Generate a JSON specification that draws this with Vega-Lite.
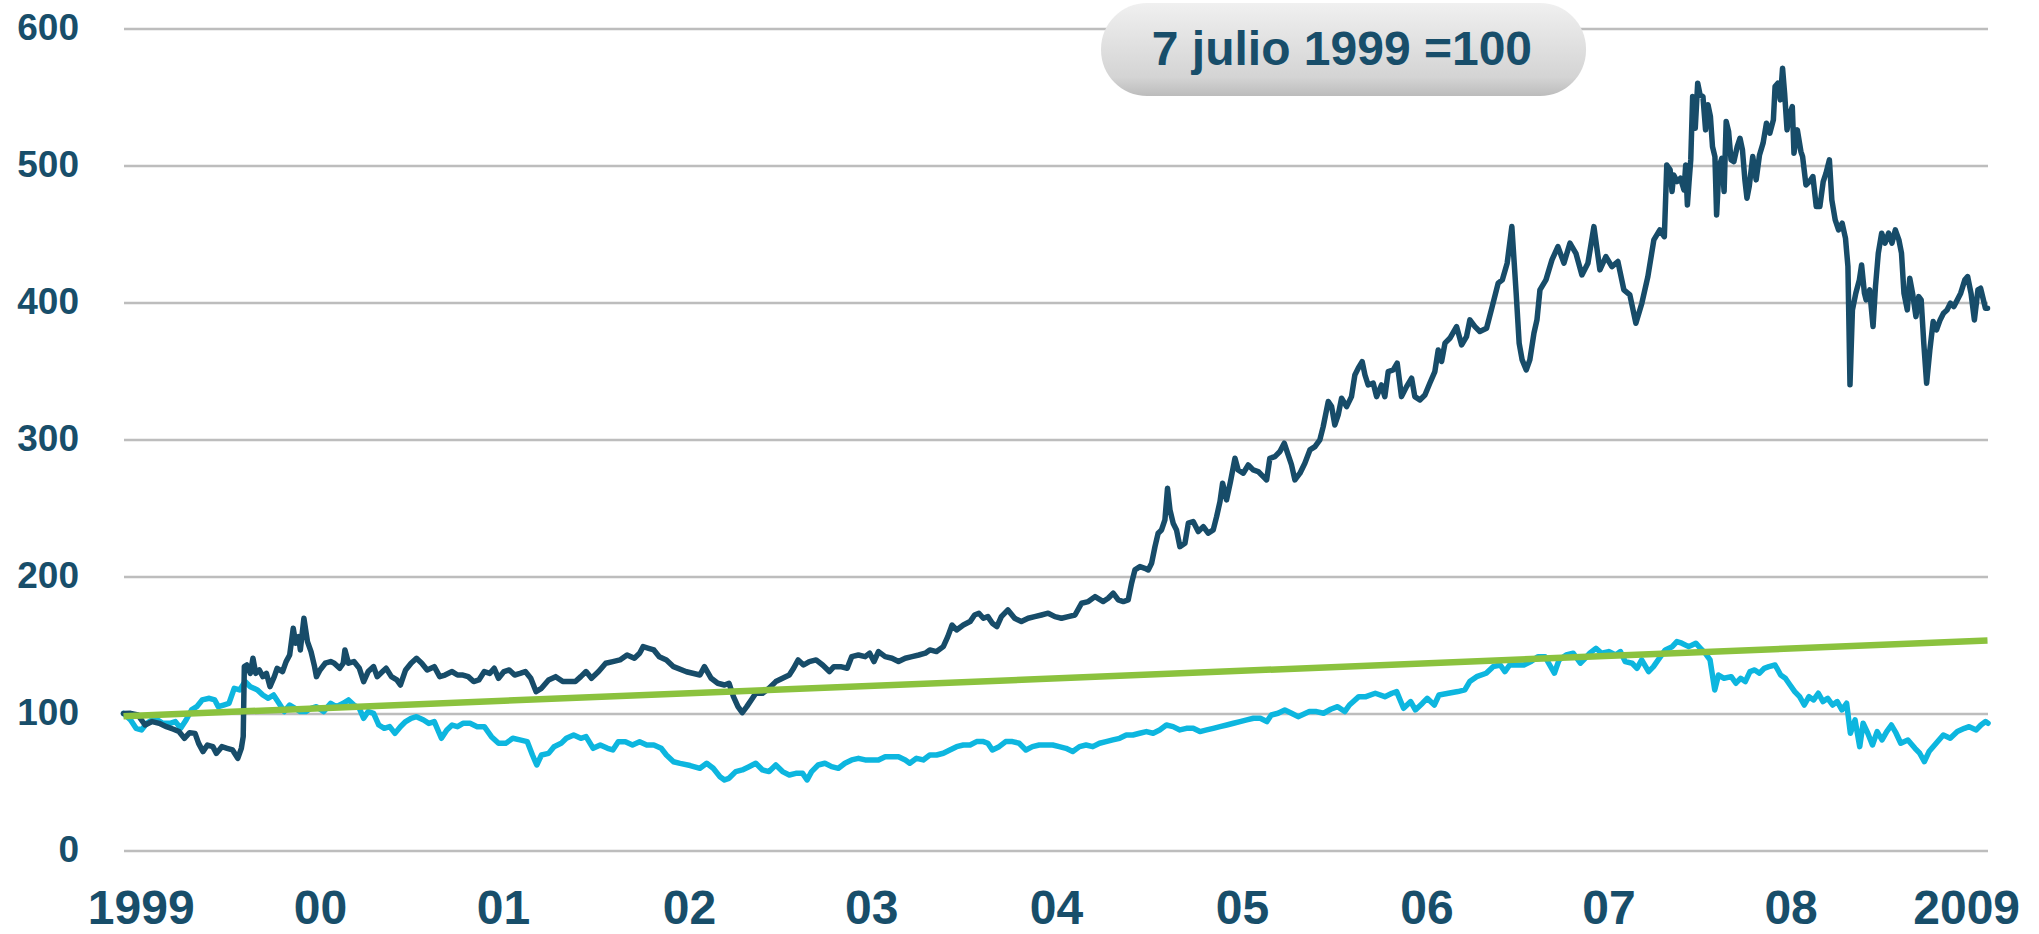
{
"$schema": "https://vega.github.io/schema/vega-lite/v6.json",
"width": 1864,
"height": 822,
"autosize": {"type": "none"},
"padding": {"left": 123.5, "top": 28.5, "right": 51.5, "bottom": 83.5},
"background": "white",
"config": {"view": {"stroke": null}},
"datasets": {
"rotulo": [{"texto": "7 julio 1999 =100"}],
"verde": [{"fecha": 1999.515, "valor": 98}, {"fecha": 2009.465, "valor": 153.3}],
"oscuro": [
{"fecha":1999.515,"valor":100},{"fecha":1999.553,"valor":100.1},{"fecha":1999.592,"valor":98.9},{"fecha":1999.630,"valor":91.6},{"fecha":1999.668,"valor":94.1},{"fecha":1999.706,"valor":92.8},{"fecha":1999.744,"valor":90.4},{"fecha":1999.782,"valor":88.5},{"fecha":1999.811,"valor":86.8},{"fecha":1999.840,"valor":81.9},{"fecha":1999.868,"valor":86.0},{"fecha":1999.897,"valor":85.5},{"fecha":1999.916,"valor":78.2},{"fecha":1999.939,"valor":72.2},{"fecha":1999.963,"valor":77.0},{"fecha":1999.992,"valor":75.8},{"fecha":2000.011,"valor":70.9},{"fecha":2000.040,"valor":75.8},{"fecha":2000.068,"valor":74.6},{"fecha":2000.097,"valor":73.4},{"fecha":2000.125,"valor":67.3},{"fecha":2000.144,"valor":74.6},{"fecha":2000.154,"valor":83.1},{"fecha":2000.160,"valor":134.2},{"fecha":2000.173,"valor":135.4},{"fecha":2000.192,"valor":129.3},{"fecha":2000.206,"valor":140.3},{"fecha":2000.221,"valor":129.3},{"fecha":2000.240,"valor":131.8},{"fecha":2000.259,"valor":126.9},{"fecha":2000.278,"valor":129.3},{"fecha":2000.297,"valor":119.6},{"fecha":2000.320,"valor":126.9},{"fecha":2000.335,"valor":133.0},{"fecha":2000.364,"valor":130.6},{"fecha":2000.383,"valor":137.9},{"fecha":2000.402,"valor":142.7},{"fecha":2000.421,"valor":162.2},{"fecha":2000.434,"valor":151.3},{"fecha":2000.450,"valor":156.1},{"fecha":2000.459,"valor":146.4},{"fecha":2000.478,"valor":169.5},{"fecha":2000.497,"valor":152.5},{"fecha":2000.516,"valor":145.2},{"fecha":2000.535,"valor":134.2},{"fecha":2000.545,"valor":126.9},{"fecha":2000.564,"valor":131.8},{"fecha":2000.592,"valor":136.7},{"fecha":2000.621,"valor":137.9},{"fecha":2000.640,"valor":136.7},{"fecha":2000.669,"valor":133.0},{"fecha":2000.688,"valor":136.7},{"fecha":2000.697,"valor":146.4},{"fecha":2000.716,"valor":136.7},{"fecha":2000.745,"valor":137.9},{"fecha":2000.774,"valor":133.0},{"fecha":2000.797,"valor":123.3},{"fecha":2000.821,"valor":130.6},{"fecha":2000.850,"valor":134.2},{"fecha":2000.869,"valor":126.9},{"fecha":2000.898,"valor":130.6},{"fecha":2000.917,"valor":133.0},{"fecha":2000.945,"valor":126.9},{"fecha":2000.974,"valor":124.5},{"fecha":2000.993,"valor":120.8},{"fecha":2001.021,"valor":131.8},{"fecha":2001.050,"valor":136.7},{"fecha":2001.079,"valor":140.3},{"fecha":2001.107,"valor":136.7},{"fecha":2001.136,"valor":131.8},{"fecha":2001.174,"valor":134.2},{"fecha":2001.203,"valor":126.9},{"fecha":2001.231,"valor":128.1},{"fecha":2001.269,"valor":130.6},{"fecha":2001.298,"valor":128.1},{"fecha":2001.327,"valor":128.1},{"fecha":2001.355,"valor":126.9},{"fecha":2001.384,"valor":123.3},{"fecha":2001.412,"valor":124.5},{"fecha":2001.441,"valor":130.6},{"fecha":2001.470,"valor":129.3},{"fecha":2001.494,"valor":133.0},{"fecha":2001.517,"valor":125.7},{"fecha":2001.546,"valor":130.6},{"fecha":2001.574,"valor":131.8},{"fecha":2001.603,"valor":128.1},{"fecha":2001.632,"valor":129.3},{"fecha":2001.660,"valor":130.6},{"fecha":2001.689,"valor":125.7},{"fecha":2001.717,"valor":116.0},{"fecha":2001.746,"valor":118.4},{"fecha":2001.784,"valor":124.5},{"fecha":2001.822,"valor":126.9},{"fecha":2001.860,"valor":123.3},{"fecha":2001.898,"valor":123.3},{"fecha":2001.927,"valor":123.3},{"fecha":2001.956,"valor":126.9},{"fecha":2001.984,"valor":130.6},{"fecha":2002.013,"valor":125.7},{"fecha":2002.051,"valor":130.6},{"fecha":2002.089,"valor":136.7},{"fecha":2002.127,"valor":137.9},{"fecha":2002.165,"valor":139.1},{"fecha":2002.203,"valor":142.7},{"fecha":2002.242,"valor":140.3},{"fecha":2002.270,"valor":144.0},{"fecha":2002.289,"valor":148.8},{"fecha":2002.318,"valor":147.6},{"fecha":2002.346,"valor":146.4},{"fecha":2002.375,"valor":141.5},{"fecha":2002.413,"valor":139.1},{"fecha":2002.451,"valor":134.2},{"fecha":2002.520,"valor":130.5},{"fecha":2002.592,"valor":128.1},{"fecha":2002.616,"valor":134.2},{"fecha":2002.652,"valor":125.7},{"fecha":2002.687,"valor":122.1},{"fecha":2002.723,"valor":120.8},{"fecha":2002.747,"valor":122.1},{"fecha":2002.771,"valor":112.3},{"fecha":2002.795,"valor":105.0},{"fecha":2002.818,"valor":100.6},{"fecha":2002.842,"valor":105.0},{"fecha":2002.866,"valor":109.9},{"fecha":2002.890,"valor":114.8},{"fecha":2002.926,"valor":114.8},{"fecha":2002.961,"valor":118.4},{"fecha":2002.997,"valor":123.3},{"fecha":2003.033,"valor":125.7},{"fecha":2003.069,"valor":128.1},{"fecha":2003.092,"valor":133.0},{"fecha":2003.116,"valor":139.1},{"fecha":2003.145,"valor":135.4},{"fecha":2003.176,"valor":137.9},{"fecha":2003.212,"valor":139.1},{"fecha":2003.247,"valor":135.4},{"fecha":2003.283,"valor":130.6},{"fecha":2003.307,"valor":134.2},{"fecha":2003.343,"valor":134.2},{"fecha":2003.378,"valor":133.0},{"fecha":2003.402,"valor":141.5},{"fecha":2003.438,"valor":142.7},{"fecha":2003.474,"valor":141.5},{"fecha":2003.498,"valor":144.0},{"fecha":2003.521,"valor":137.9},{"fecha":2003.545,"valor":145.2},{"fecha":2003.581,"valor":141.5},{"fecha":2003.617,"valor":140.3},{"fecha":2003.652,"valor":137.9},{"fecha":2003.688,"valor":140.3},{"fecha":2003.724,"valor":141.5},{"fecha":2003.760,"valor":142.7},{"fecha":2003.795,"valor":144.0},{"fecha":2003.819,"valor":146.4},{"fecha":2003.855,"valor":145.2},{"fecha":2003.891,"valor":148.8},{"fecha":2003.915,"valor":156.1},{"fecha":2003.938,"valor":164.6},{"fecha":2003.962,"valor":161.0},{"fecha":2003.998,"valor":164.6},{"fecha":2004.034,"valor":167.1},{"fecha":2004.058,"valor":171.9},{"fecha":2004.081,"valor":173.2},{"fecha":2004.105,"valor":169.5},{"fecha":2004.129,"valor":170.7},{"fecha":2004.153,"valor":165.9},{"fecha":2004.177,"valor":163.4},{"fecha":2004.201,"valor":170.7},{"fecha":2004.236,"valor":175.6},{"fecha":2004.272,"valor":169.5},{"fecha":2004.308,"valor":167.1},{"fecha":2004.344,"valor":169.5},{"fecha":2004.379,"valor":170.7},{"fecha":2004.415,"valor":171.9},{"fecha":2004.451,"valor":173.2},{"fecha":2004.487,"valor":170.7},{"fecha":2004.522,"valor":169.5},{"fecha":2004.558,"valor":170.7},{"fecha":2004.594,"valor":171.9},{"fecha":2004.629,"valor":180.5},{"fecha":2004.665,"valor":181.7},{"fecha":2004.701,"valor":185.3},{"fecha":2004.745,"valor":181.7},{"fecha":2004.771,"valor":184.1},{"fecha":2004.798,"valor":187.8},{"fecha":2004.825,"valor":182.9},{"fecha":2004.852,"valor":181.7},{"fecha":2004.878,"valor":182.9},{"fecha":2004.896,"valor":195.1},{"fecha":2004.914,"valor":204.8},{"fecha":2004.941,"valor":207.2},{"fecha":2004.967,"valor":206.0},{"fecha":2004.985,"valor":204.8},{"fecha":2005.003,"valor":209.7},{"fecha":2005.021,"valor":221.8},{"fecha":2005.038,"valor":231.6},{"fecha":2005.056,"valor":234.0},{"fecha":2005.074,"valor":241.3},{"fecha":2005.088,"valor":264.4},{"fecha":2005.101,"valor":248.6},{"fecha":2005.118,"valor":238.9},{"fecha":2005.136,"valor":234.0},{"fecha":2005.154,"valor":221.8},{"fecha":2005.181,"valor":224.3},{"fecha":2005.199,"valor":238.9},{"fecha":2005.225,"valor":240.1},{"fecha":2005.252,"valor":232.8},{"fecha":2005.279,"valor":236.4},{"fecha":2005.305,"valor":231.6},{"fecha":2005.332,"valor":234.0},{"fecha":2005.350,"valor":243.7},{"fecha":2005.368,"valor":254.7},{"fecha":2005.382,"valor":268.1},{"fecha":2005.403,"valor":255.9},{"fecha":2005.424,"valor":269.3},{"fecha":2005.448,"valor":286.3},{"fecha":2005.465,"valor":277.8},{"fecha":2005.492,"valor":275.4},{"fecha":2005.519,"valor":281.4},{"fecha":2005.545,"valor":277.8},{"fecha":2005.572,"valor":276.6},{"fecha":2005.599,"valor":272.9},{"fecha":2005.617,"valor":270.5},{"fecha":2005.634,"valor":286.3},{"fecha":2005.661,"valor":287.5},{"fecha":2005.688,"valor":291.2},{"fecha":2005.711,"valor":297.3},{"fecha":2005.732,"valor":288.7},{"fecha":2005.750,"valor":281.4},{"fecha":2005.768,"valor":270.5},{"fecha":2005.795,"valor":275.4},{"fecha":2005.821,"valor":282.7},{"fecha":2005.848,"valor":292.4},{"fecha":2005.875,"valor":294.8},{"fecha":2005.901,"valor":299.7},{"fecha":2005.919,"valor":309.4},{"fecha":2005.946,"valor":327.7},{"fecha":2005.964,"valor":324.0},{"fecha":2005.981,"valor":310.6},{"fecha":2005.999,"valor":317.9},{"fecha":2006.017,"valor":330.1},{"fecha":2006.044,"valor":324.0},{"fecha":2006.070,"valor":331.3},{"fecha":2006.088,"valor":347.1},{"fecha":2006.106,"valor":352.0},{"fecha":2006.127,"valor":356.9},{"fecha":2006.142,"valor":347.1},{"fecha":2006.159,"valor":339.8},{"fecha":2006.186,"valor":341.1},{"fecha":2006.204,"valor":331.3},{"fecha":2006.230,"valor":339.8},{"fecha":2006.248,"valor":331.3},{"fecha":2006.266,"valor":349.6},{"fecha":2006.293,"valor":350.8},{"fecha":2006.314,"valor":355.7},{"fecha":2006.337,"valor":331.3},{"fecha":2006.364,"valor":338.6},{"fecha":2006.391,"valor":344.7},{"fecha":2006.408,"valor":331.3},{"fecha":2006.435,"valor":328.9},{"fecha":2006.462,"valor":332.5},{"fecha":2006.488,"valor":341.1},{"fecha":2006.515,"valor":349.6},{"fecha":2006.533,"valor":365.4},{"fecha":2006.551,"valor":356.9},{"fecha":2006.569,"valor":370.3},{"fecha":2006.595,"valor":373.9},{"fecha":2006.631,"valor":382.4},{"fecha":2006.658,"valor":369.0},{"fecha":2006.684,"valor":375.1},{"fecha":2006.702,"valor":387.3},{"fecha":2006.729,"valor":382.4},{"fecha":2006.755,"valor":378.8},{"fecha":2006.791,"valor":381.2},{"fecha":2006.821,"valor":397.0},{"fecha":2006.853,"valor":414.1},{"fecha":2006.875,"valor":416.5},{"fecha":2006.901,"valor":428.7},{"fecha":2006.926,"valor":455.4},{"fecha":2006.949,"valor":406.8},{"fecha":2006.965,"valor":370.3},{"fecha":2006.981,"valor":358.1},{"fecha":2007.003,"valor":350.8},{"fecha":2007.022,"valor":358.1},{"fecha":2007.044,"valor":377.6},{"fecha":2007.060,"valor":387.3},{"fecha":2007.076,"valor":409.2},{"fecha":2007.108,"valor":416.5},{"fecha":2007.140,"valor":431.1},{"fecha":2007.172,"valor":440.8},{"fecha":2007.204,"valor":428.7},{"fecha":2007.236,"valor":443.3},{"fecha":2007.268,"valor":435.9},{"fecha":2007.300,"valor":420.1},{"fecha":2007.332,"valor":428.7},{"fecha":2007.364,"valor":455.4},{"fecha":2007.396,"valor":423.8},{"fecha":2007.428,"valor":433.5},{"fecha":2007.460,"valor":426.2},{"fecha":2007.492,"valor":429.9},{"fecha":2007.524,"valor":409.2},{"fecha":2007.556,"valor":405.5},{"fecha":2007.588,"valor":384.9},{"fecha":2007.620,"valor":399.5},{"fecha":2007.652,"valor":418.9},{"fecha":2007.684,"valor":445.7},{"fecha":2007.716,"valor":453.0},{"fecha":2007.740,"valor":448.1},{"fecha":2007.753,"valor":500.4},{"fecha":2007.771,"valor":496.8},{"fecha":2007.781,"valor":481.0},{"fecha":2007.790,"valor":493.1},{"fecha":2007.808,"valor":488.3},{"fecha":2007.826,"valor":490.7},{"fecha":2007.845,"valor":482.2},{"fecha":2007.854,"valor":500.4},{"fecha":2007.863,"valor":471.2},{"fecha":2007.872,"valor":488.3},{"fecha":2007.881,"valor":504.1},{"fecha":2007.891,"valor":550.3},{"fecha":2007.905,"valor":527.2},{"fecha":2007.918,"valor":560.1},{"fecha":2007.931,"valor":551.5},{"fecha":2007.946,"valor":550.3},{"fecha":2007.960,"valor":526.0},{"fecha":2007.973,"valor":544.3},{"fecha":2007.986,"valor":535.7},{"fecha":2007.997,"valor":513.8},{"fecha":2008.010,"valor":506.5},{"fecha":2008.019,"valor":463.9},{"fecha":2008.032,"valor":499.2},{"fecha":2008.047,"valor":505.3},{"fecha":2008.059,"valor":481.0},{"fecha":2008.070,"valor":532.1},{"fecha":2008.083,"valor":524.8},{"fecha":2008.096,"valor":504.1},{"fecha":2008.111,"valor":502.9},{"fecha":2008.129,"valor":513.8},{"fecha":2008.144,"valor":519.9},{"fecha":2008.157,"valor":511.4},{"fecha":2008.170,"valor":489.5},{"fecha":2008.181,"valor":476.1},{"fecha":2008.193,"valor":484.6},{"fecha":2008.212,"valor":506.5},{"fecha":2008.230,"valor":489.5},{"fecha":2008.248,"valor":507.7},{"fecha":2008.267,"valor":516.3},{"fecha":2008.285,"valor":530.9},{"fecha":2008.303,"valor":523.6},{"fecha":2008.322,"valor":533.3},{"fecha":2008.331,"valor":557.6},{"fecha":2008.346,"valor":560.1},{"fecha":2008.359,"valor":547.9},{"fecha":2008.371,"valor":571.0},{"fecha":2008.382,"valor":552.8},{"fecha":2008.395,"valor":526.0},{"fecha":2008.408,"valor":537.0},{"fecha":2008.423,"valor":543.0},{"fecha":2008.432,"valor":509.0},{"fecha":2008.450,"valor":526.0},{"fecha":2008.469,"valor":510.2},{"fecha":2008.478,"valor":506.5},{"fecha":2008.496,"valor":485.8},{"fecha":2008.515,"valor":488.3},{"fecha":2008.533,"valor":491.9},{"fecha":2008.551,"valor":470.0},{"fecha":2008.570,"valor":470.0},{"fecha":2008.588,"valor":488.3},{"fecha":2008.603,"valor":494.4},{"fecha":2008.621,"valor":504.1},{"fecha":2008.634,"valor":474.9},{"fecha":2008.652,"valor":460.3},{"fecha":2008.670,"valor":453.0},{"fecha":2008.689,"valor":457.9},{"fecha":2008.707,"valor":446.9},{"fecha":2008.720,"valor":426.2},{"fecha":2008.731,"valor":340.0},{"fecha":2008.744,"valor":394.6},{"fecha":2008.762,"valor":406.8},{"fecha":2008.781,"valor":416.5},{"fecha":2008.793,"valor":427.4},{"fecha":2008.808,"valor":406.8},{"fecha":2008.817,"valor":401.9},{"fecha":2008.836,"valor":409.2},{"fecha":2008.854,"valor":382.4},{"fecha":2008.867,"valor":411.6},{"fecha":2008.882,"valor":435.9},{"fecha":2008.900,"valor":450.6},{"fecha":2008.918,"valor":443.3},{"fecha":2008.937,"valor":450.6},{"fecha":2008.955,"valor":443.3},{"fecha":2008.973,"valor":453.0},{"fecha":2008.992,"valor":445.7},{"fecha":2009.006,"valor":435.9},{"fecha":2009.019,"valor":406.8},{"fecha":2009.037,"valor":394.6},{"fecha":2009.050,"valor":417.7},{"fecha":2009.065,"valor":406.8},{"fecha":2009.083,"valor":389.7},{"fecha":2009.098,"valor":404.3},{"fecha":2009.111,"valor":401.9},{"fecha":2009.125,"valor":370.0},{"fecha":2009.140,"valor":341.0},{"fecha":2009.157,"valor":365.0},{"fecha":2009.175,"valor":386.1},{"fecha":2009.193,"valor":380.0},{"fecha":2009.212,"valor":387.3},{"fecha":2009.230,"valor":392.2},{"fecha":2009.249,"valor":394.6},{"fecha":2009.267,"valor":399.5},{"fecha":2009.285,"valor":397.0},{"fecha":2009.304,"valor":401.9},{"fecha":2009.322,"valor":406.8},{"fecha":2009.344,"valor":416.5},{"fecha":2009.359,"valor":418.9},{"fecha":2009.377,"valor":406.8},{"fecha":2009.395,"valor":387.3},{"fecha":2009.414,"valor":409.2},{"fecha":2009.428,"valor":410.4},{"fecha":2009.441,"valor":403.1},{"fecha":2009.454,"valor":395.8},{"fecha":2009.465,"valor":395.8}
],
"claro": [
{"fecha":1999.515,"valor":100},{"fecha":1999.553,"valor":95.3},{"fecha":1999.582,"valor":89.2},{"fecha":1999.611,"valor":88.0},{"fecha":1999.639,"valor":92.8},{"fecha":1999.668,"valor":95.3},{"fecha":1999.697,"valor":95.3},{"fecha":1999.725,"valor":92.8},{"fecha":1999.763,"valor":92.8},{"fecha":1999.792,"valor":94.1},{"fecha":1999.820,"valor":89.2},{"fecha":1999.849,"valor":95.3},{"fecha":1999.878,"valor":102.6},{"fecha":1999.906,"valor":105.0},{"fecha":1999.935,"valor":109.9},{"fecha":1999.973,"valor":111.1},{"fecha":2000.002,"valor":109.9},{"fecha":2000.021,"valor":105.0},{"fecha":2000.049,"valor":106.2},{"fecha":2000.078,"valor":107.4},{"fecha":2000.106,"valor":118.4},{"fecha":2000.135,"valor":117.2},{"fecha":2000.164,"valor":123.3},{"fecha":2000.192,"valor":119.6},{"fecha":2000.230,"valor":117.2},{"fecha":2000.259,"valor":113.5},{"fecha":2000.288,"valor":111.1},{"fecha":2000.316,"valor":113.5},{"fecha":2000.345,"valor":107.4},{"fecha":2000.373,"valor":101.4},{"fecha":2000.402,"valor":106.2},{"fecha":2000.431,"valor":103.8},{"fecha":2000.459,"valor":101.4},{"fecha":2000.488,"valor":101.4},{"fecha":2000.516,"valor":103.8},{"fecha":2000.545,"valor":105.0},{"fecha":2000.583,"valor":101.4},{"fecha":2000.621,"valor":107.4},{"fecha":2000.650,"valor":105.0},{"fecha":2000.688,"valor":107.4},{"fecha":2000.716,"valor":109.9},{"fecha":2000.745,"valor":106.2},{"fecha":2000.774,"valor":103.8},{"fecha":2000.797,"valor":96.5},{"fecha":2000.821,"valor":101.4},{"fecha":2000.850,"valor":100.1},{"fecha":2000.878,"valor":91.6},{"fecha":2000.907,"valor":89.2},{"fecha":2000.936,"valor":90.4},{"fecha":2000.964,"valor":85.5},{"fecha":2000.993,"valor":90.4},{"fecha":2001.021,"valor":94.1},{"fecha":2001.050,"valor":96.5},{"fecha":2001.079,"valor":97.7},{"fecha":2001.117,"valor":95.3},{"fecha":2001.145,"valor":92.8},{"fecha":2001.174,"valor":94.1},{"fecha":2001.212,"valor":81.9},{"fecha":2001.241,"valor":88.0},{"fecha":2001.269,"valor":91.6},{"fecha":2001.298,"valor":90.4},{"fecha":2001.327,"valor":92.8},{"fecha":2001.365,"valor":92.8},{"fecha":2001.403,"valor":90.4},{"fecha":2001.441,"valor":90.4},{"fecha":2001.479,"valor":83.1},{"fecha":2001.517,"valor":78.2},{"fecha":2001.555,"valor":78.2},{"fecha":2001.593,"valor":81.9},{"fecha":2001.631,"valor":80.7},{"fecha":2001.670,"valor":79.5},{"fecha":2001.698,"valor":69.7},{"fecha":2001.721,"valor":62.4},{"fecha":2001.746,"valor":69.7},{"fecha":2001.784,"valor":70.9},{"fecha":2001.813,"valor":75.8},{"fecha":2001.851,"valor":78.2},{"fecha":2001.879,"valor":81.9},{"fecha":2001.918,"valor":84.3},{"fecha":2001.956,"valor":81.9},{"fecha":2001.984,"valor":83.1},{"fecha":2002.022,"valor":74.6},{"fecha":2002.060,"valor":77.0},{"fecha":2002.099,"valor":74.6},{"fecha":2002.127,"valor":73.4},{"fecha":2002.156,"valor":79.4},{"fecha":2002.194,"valor":79.4},{"fecha":2002.232,"valor":77.0},{"fecha":2002.270,"valor":79.4},{"fecha":2002.308,"valor":77.0},{"fecha":2002.346,"valor":77.0},{"fecha":2002.385,"valor":74.6},{"fecha":2002.413,"valor":69.7},{"fecha":2002.451,"valor":64.8},{"fecha":2002.486,"valor":63.6},{"fecha":2002.540,"valor":62.0},{"fecha":2002.592,"valor":60.0},{"fecha":2002.628,"valor":63.7},{"fecha":2002.663,"valor":60.0},{"fecha":2002.699,"valor":53.9},{"fecha":2002.723,"valor":51.5},{"fecha":2002.747,"valor":52.7},{"fecha":2002.783,"valor":57.6},{"fecha":2002.818,"valor":58.8},{"fecha":2002.854,"valor":61.2},{"fecha":2002.890,"valor":63.7},{"fecha":2002.926,"valor":58.8},{"fecha":2002.961,"valor":57.6},{"fecha":2002.997,"valor":62.4},{"fecha":2003.033,"valor":57.6},{"fecha":2003.069,"valor":55.1},{"fecha":2003.104,"valor":56.3},{"fecha":2003.140,"valor":56.3},{"fecha":2003.164,"valor":51.5},{"fecha":2003.188,"valor":57.6},{"fecha":2003.223,"valor":62.4},{"fecha":2003.259,"valor":63.7},{"fecha":2003.295,"valor":61.2},{"fecha":2003.331,"valor":60.0},{"fecha":2003.366,"valor":63.7},{"fecha":2003.402,"valor":66.1},{"fecha":2003.438,"valor":67.3},{"fecha":2003.474,"valor":66.1},{"fecha":2003.509,"valor":66.1},{"fecha":2003.545,"valor":66.1},{"fecha":2003.581,"valor":68.5},{"fecha":2003.617,"valor":68.5},{"fecha":2003.652,"valor":68.5},{"fecha":2003.688,"valor":66.1},{"fecha":2003.712,"valor":63.7},{"fecha":2003.748,"valor":67.3},{"fecha":2003.784,"valor":66.1},{"fecha":2003.819,"valor":69.7},{"fecha":2003.855,"valor":69.7},{"fecha":2003.891,"valor":71.0},{"fecha":2003.926,"valor":73.4},{"fecha":2003.962,"valor":75.8},{"fecha":2003.998,"valor":77.0},{"fecha":2004.034,"valor":77.0},{"fecha":2004.069,"valor":79.5},{"fecha":2004.105,"valor":79.5},{"fecha":2004.129,"valor":78.3},{"fecha":2004.153,"valor":73.4},{"fecha":2004.189,"valor":75.8},{"fecha":2004.224,"valor":79.5},{"fecha":2004.260,"valor":79.5},{"fecha":2004.296,"valor":78.3},{"fecha":2004.332,"valor":73.4},{"fecha":2004.367,"valor":75.8},{"fecha":2004.403,"valor":77.0},{"fecha":2004.439,"valor":77.0},{"fecha":2004.475,"valor":77.0},{"fecha":2004.510,"valor":75.8},{"fecha":2004.546,"valor":74.6},{"fecha":2004.582,"valor":72.2},{"fecha":2004.618,"valor":75.8},{"fecha":2004.653,"valor":77.0},{"fecha":2004.689,"valor":75.8},{"fecha":2004.725,"valor":78.3},{"fecha":2004.760,"valor":79.5},{"fecha":2004.796,"valor":80.7},{"fecha":2004.832,"valor":81.9},{"fecha":2004.868,"valor":84.3},{"fecha":2004.903,"valor":84.3},{"fecha":2004.939,"valor":85.6},{"fecha":2004.975,"valor":86.8},{"fecha":2005.011,"valor":85.6},{"fecha":2005.046,"valor":88.0},{"fecha":2005.082,"valor":91.6},{"fecha":2005.118,"valor":90.4},{"fecha":2005.154,"valor":88.0},{"fecha":2005.189,"valor":89.2},{"fecha":2005.225,"valor":89.2},{"fecha":2005.261,"valor":86.8},{"fecha":2005.297,"valor":88.0},{"fecha":2005.332,"valor":89.2},{"fecha":2005.368,"valor":90.4},{"fecha":2005.404,"valor":91.6},{"fecha":2005.440,"valor":92.9},{"fecha":2005.475,"valor":94.1},{"fecha":2005.511,"valor":95.3},{"fecha":2005.547,"valor":96.5},{"fecha":2005.583,"valor":96.5},{"fecha":2005.618,"valor":94.1},{"fecha":2005.642,"valor":98.9},{"fecha":2005.678,"valor":100.2},{"fecha":2005.714,"valor":102.6},{"fecha":2005.750,"valor":100.2},{"fecha":2005.785,"valor":97.7},{"fecha":2005.845,"valor":101.4},{"fecha":2005.883,"valor":101.4},{"fecha":2005.921,"valor":100.2},{"fecha":2005.959,"valor":103.1},{"fecha":2005.996,"valor":105.0},{"fecha":2006.034,"valor":101.4},{"fecha":2006.059,"valor":106.2},{"fecha":2006.109,"valor":112.3},{"fecha":2006.147,"valor":112.3},{"fecha":2006.197,"valor":114.8},{"fecha":2006.248,"valor":112.3},{"fecha":2006.286,"valor":114.8},{"fecha":2006.311,"valor":116.0},{"fecha":2006.348,"valor":103.8},{"fecha":2006.386,"valor":108.7},{"fecha":2006.411,"valor":102.6},{"fecha":2006.449,"valor":107.5},{"fecha":2006.474,"valor":111.1},{"fecha":2006.512,"valor":106.2},{"fecha":2006.537,"valor":113.5},{"fecha":2006.587,"valor":114.8},{"fecha":2006.638,"valor":116.0},{"fecha":2006.675,"valor":117.2},{"fecha":2006.701,"valor":123.3},{"fecha":2006.738,"valor":126.9},{"fecha":2006.789,"valor":129.4},{"fecha":2006.826,"valor":134.2},{"fecha":2006.864,"valor":135.4},{"fecha":2006.889,"valor":130.6},{"fecha":2006.914,"valor":135.4},{"fecha":2006.952,"valor":135.4},{"fecha":2006.990,"valor":135.4},{"fecha":2007.028,"valor":137.9},{"fecha":2007.065,"valor":141.5},{"fecha":2007.103,"valor":141.5},{"fecha":2007.128,"valor":135.4},{"fecha":2007.153,"valor":129.4},{"fecha":2007.178,"valor":139.1},{"fecha":2007.216,"valor":142.7},{"fecha":2007.254,"valor":144.0},{"fecha":2007.292,"valor":136.7},{"fecha":2007.317,"valor":140.3},{"fecha":2007.342,"valor":144.0},{"fecha":2007.375,"valor":147.6},{"fecha":2007.405,"valor":144.0},{"fecha":2007.443,"valor":145.2},{"fecha":2007.480,"valor":142.7},{"fecha":2007.506,"valor":145.2},{"fecha":2007.531,"valor":137.9},{"fecha":2007.568,"valor":136.7},{"fecha":2007.594,"valor":133.0},{"fecha":2007.619,"valor":139.1},{"fecha":2007.656,"valor":130.6},{"fecha":2007.682,"valor":134.2},{"fecha":2007.707,"valor":139.1},{"fecha":2007.745,"valor":146.4},{"fecha":2007.782,"valor":148.8},{"fecha":2007.807,"valor":152.5},{"fecha":2007.833,"valor":151.3},{"fecha":2007.870,"valor":148.8},{"fecha":2007.908,"valor":151.3},{"fecha":2007.933,"valor":147.6},{"fecha":2007.958,"valor":144.0},{"fecha":2007.984,"valor":139.1},{"fecha":2008.009,"valor":117.2},{"fecha":2008.029,"valor":128.1},{"fecha":2008.059,"valor":125.7},{"fecha":2008.097,"valor":126.9},{"fecha":2008.122,"valor":122.1},{"fecha":2008.147,"valor":125.7},{"fecha":2008.172,"valor":123.3},{"fecha":2008.197,"valor":130.6},{"fecha":2008.222,"valor":131.8},{"fecha":2008.248,"valor":129.4},{"fecha":2008.273,"valor":133.0},{"fecha":2008.298,"valor":134.2},{"fecha":2008.331,"valor":135.4},{"fecha":2008.361,"valor":128.1},{"fecha":2008.386,"valor":125.7},{"fecha":2008.411,"valor":120.8},{"fecha":2008.436,"valor":116.0},{"fecha":2008.462,"valor":112.3},{"fecha":2008.487,"valor":106.2},{"fecha":2008.512,"valor":112.3},{"fecha":2008.537,"valor":109.9},{"fecha":2008.562,"valor":114.8},{"fecha":2008.587,"valor":108.7},{"fecha":2008.612,"valor":111.1},{"fecha":2008.638,"valor":106.2},{"fecha":2008.663,"valor":108.7},{"fecha":2008.688,"valor":102.6},{"fecha":2008.713,"valor":107.5},{"fecha":2008.733,"valor":85.6},{"fecha":2008.758,"valor":95.3},{"fecha":2008.783,"valor":75.8},{"fecha":2008.801,"valor":92.9},{"fecha":2008.826,"valor":85.6},{"fecha":2008.851,"valor":77.0},{"fecha":2008.876,"valor":86.8},{"fecha":2008.902,"valor":80.7},{"fecha":2008.927,"valor":86.8},{"fecha":2008.952,"valor":91.6},{"fecha":2008.977,"valor":85.6},{"fecha":2009.002,"valor":78.3},{"fecha":2009.040,"valor":80.7},{"fecha":2009.078,"valor":74.6},{"fecha":2009.103,"valor":71.0},{"fecha":2009.128,"valor":64.9},{"fecha":2009.153,"valor":72.2},{"fecha":2009.191,"valor":78.3},{"fecha":2009.229,"valor":84.3},{"fecha":2009.266,"valor":81.9},{"fecha":2009.304,"valor":86.8},{"fecha":2009.342,"valor":89.2},{"fecha":2009.367,"valor":90.4},{"fecha":2009.405,"valor":88.0},{"fecha":2009.430,"valor":91.6},{"fecha":2009.455,"valor":94.1},{"fecha":2009.468,"valor":92.9}
]
},
"layer": [
{
"data": {"name": "claro"},
"mark": {"type": "line", "color": "#0DB6DF", "strokeWidth": 5.5, "strokeJoin": "round", "strokeCap": "round", "clip": false},
"encoding": {
"x": {"field": "fecha", "type": "quantitative",
"scale": {"domain": [1999.515, 2009.465], "nice": false, "zero": false},
"axis": {"title": null, "values": [1999.607, 2000.564, 2001.541, 2002.533, 2003.506, 2004.492, 2005.485, 2006.47, 2007.442, 2008.414, 2009.351],
"labelExpr": "datum.value < 2000 ? '1999' : (datum.value > 2009 ? '2009' : '0' + floor(datum.value - 2000))",
"domain": false, "ticks": false, "grid": false, "labelFont": "Liberation Sans", "labelFontWeight": "bold", "labelFontSize": 48, "labelColor": "#184E6A", "labelPadding": 35, "labelFlush": false, "labelOverlap": false, "labelBound": false}},
"y": {"field": "valor", "type": "quantitative",
"scale": {"domain": [0, 600], "nice": false, "zero": true},
"axis": {"title": null, "values": [0, 100, 200, 300, 400, 500, 600], "domain": false, "ticks": false, "grid": true, "gridColor": "#bdbdbd", "gridWidth": 2.5, "labelFont": "Liberation Sans", "labelFontWeight": "bold", "labelFontSize": 37, "labelColor": "#184E6A", "labelPadding": 45}}
}
},
{
"data": {"name": "oscuro"},
"mark": {"type": "line", "color": "#174C69", "strokeWidth": 5.5, "strokeJoin": "round", "strokeCap": "round", "clip": false},
"encoding": {
"x": {"field": "fecha", "type": "quantitative", "title": null, "scale": {"domain": [1999.515, 2009.465], "nice": false, "zero": false}},
"y": {"field": "valor", "type": "quantitative", "title": null, "scale": {"domain": [0, 600], "nice": false, "zero": true}}
}
},
{
"data": {"name": "verde"},
"mark": {"type": "line", "color": "#8BC23E", "strokeWidth": 6.5, "clip": false},
"encoding": {
"x": {"field": "fecha", "type": "quantitative", "title": null, "scale": {"domain": [1999.515, 2009.465], "nice": false, "zero": false}},
"y": {"field": "valor", "type": "quantitative", "title": null, "scale": {"domain": [0, 600], "nice": false, "zero": true}}
}
},
{
"data": {"name": "rotulo"},
"mark": {"type": "rect", "cornerRadius": 46, "clip": false,
"fill": {"gradient": "linear", "x1": 0, "y1": 0, "x2": 0, "y2": 1, "stops": [{"offset": 0, "color": "#f0f0f0"}, {"offset": 0.8, "color": "#d4d4d4"}, {"offset": 1, "color": "#bcbcbc"}]}},
"encoding": {
"x": {"datum": 2004.733, "type": "quantitative", "title": null, "scale": {"domain": [1999.515, 2009.465], "nice": false, "zero": false}},
"x2": {"datum": 2007.322},
"y": {"datum": 618.7, "type": "quantitative", "title": null, "scale": {"domain": [0, 600], "nice": false, "zero": true}},
"y2": {"datum": 550.8}
}
},
{
"data": {"name": "rotulo"},
"mark": {"type": "text", "font": "Liberation Sans", "fontWeight": "bold", "fontSize": 48, "color": "#184E6A", "align": "center", "baseline": "alphabetic", "clip": false},
"encoding": {
"x": {"datum": 2006.019, "type": "quantitative", "title": null, "scale": {"domain": [1999.515, 2009.465], "nice": false, "zero": false}},
"y": {"datum": 573.4, "type": "quantitative", "title": null, "scale": {"domain": [0, 600], "nice": false, "zero": true}},
"text": {"field": "texto"}
}
}
]
}
